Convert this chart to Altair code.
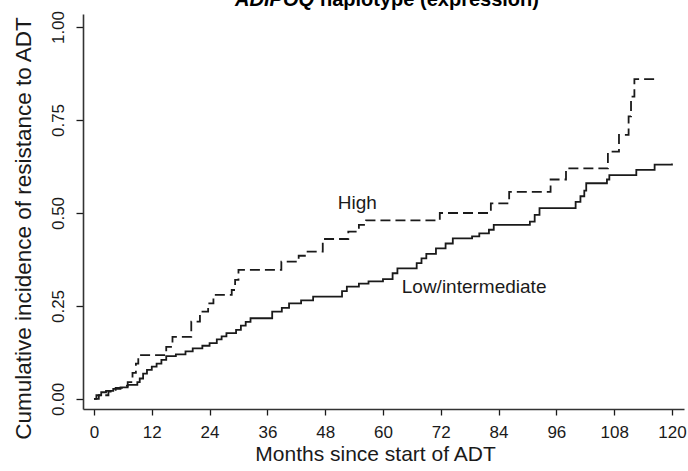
import altair as alt
import pandas as pd

# Low/intermediate expression (solid step line)
low_months = [0, 0.5, 1.5, 2.5, 4, 5.5, 7, 9, 9.5, 10.2, 11, 12, 13, 14, 15, 17, 19, 20.5,
              22.5, 24, 25.5, 26.5, 27.5, 29.5, 30.5, 31.5, 32.5, 37, 39, 40.5, 43, 45.5,
              51.5, 52.5, 55, 57, 60, 62, 63, 67, 68, 69, 71, 73, 74.5, 78.5, 80, 82, 83,
              90.5, 91.5, 92.5, 100, 101, 101.8, 102.2, 106.5, 107, 112.6, 116.4, 120]
low_values = [0, 0.01, 0.018, 0.022, 0.027, 0.031, 0.038, 0.045, 0.055, 0.068, 0.078, 0.087,
              0.095, 0.105, 0.115, 0.12, 0.128, 0.136, 0.143, 0.15, 0.16, 0.168, 0.177, 0.186,
              0.197, 0.207, 0.217, 0.235, 0.245, 0.257, 0.265, 0.275, 0.29, 0.302, 0.31, 0.316,
              0.322, 0.338, 0.351, 0.365, 0.378, 0.39, 0.405, 0.418, 0.432, 0.437, 0.445, 0.455,
              0.468, 0.477, 0.495, 0.513, 0.53, 0.545, 0.56, 0.58, 0.59, 0.602, 0.616, 0.63, 0.633]

# High expression (dashed step line)
high_months = [0, 1, 3, 4.5, 6, 7, 8, 8.7, 9.2, 15, 16.3, 20.2, 22, 23.7, 24.8, 28.6, 29.3, 30,
               38.9, 42.5, 44, 47.5, 52.8, 55, 56.5, 71.8, 82.4, 86.2, 94.8, 98, 106.7, 109,
               111, 111.5, 112.2, 116.7]
high_values = [0, 0.01, 0.02, 0.03, 0.035, 0.045, 0.07, 0.095, 0.118, 0.14, 0.167, 0.208, 0.235,
               0.257, 0.28, 0.293, 0.32, 0.347, 0.369, 0.385, 0.396, 0.43, 0.45, 0.468, 0.48,
               0.5, 0.526, 0.557, 0.59, 0.62, 0.665, 0.71, 0.76, 0.813, 0.86, 0.86]

x_ticks = [0, 12, 24, 36, 48, 60, 72, 84, 96, 108, 120]
y_ticks = [0.0, 0.25, 0.5, 0.75, 1.0]

label_text = ["High", "Low/intermediate"]
label_months = [50.6, 63.9]
label_values = [0.527, 0.301]

title_italic = "ADIPOQ"
title_rest = "haplotype (expression)"

FONT = "Liberation Sans"
INK = "#1a1a1a"

low_df = pd.DataFrame({"month": low_months, "value": low_values})
high_df = pd.DataFrame({"month": high_months, "value": high_values})
lab_df = pd.DataFrame({"month": label_months, "value": label_values, "text": label_text})

W, H = 601, 395

xscale = alt.Scale(domain=[-2.28, 122.5], nice=False, zero=False)
yscale = alt.Scale(domain=[-0.027, 1.035], nice=False, zero=False)

x_axis = alt.Axis(
    values=x_ticks, title="Months since start of ADT", grid=False,
    labelFont=FONT, labelFontSize=17, labelColor=INK, labelPadding=9,
    tickSize=6, tickColor=INK, tickWidth=1.3,
    domainColor="#333333", domainWidth=1.6,
    titleFont=FONT, titleFontSize=21, titleFontWeight="normal", titleColor=INK,
    titleX=292, titleY=51, titleAlign="center", titleBaseline="alphabetic",
)
y_axis = alt.Axis(
    values=y_ticks, format=".2f", title="Cumulative incidence of resistance to ADT", grid=False,
    labelFont=FONT, labelFontSize=17, labelColor=INK, labelAngle=-90,
    labelAlign="center", labelBaseline="bottom", labelPadding=9,
    tickSize=7, tickColor=INK, tickWidth=1.3,
    domainColor="#333333", domainWidth=1.6,
    titleFont=FONT, titleFontSize=22.5, titleFontWeight="normal", titleColor=INK,
    titleAngle=-90, titleX=-53, titleY=214, titleAlign="center", titleBaseline="alphabetic",
)

low_line = alt.Chart(low_df).mark_line(
    interpolate="step-after", color=INK, strokeWidth=1.8
).encode(
    x=alt.X("month:Q", scale=xscale, axis=x_axis),
    y=alt.Y("value:Q", scale=yscale, axis=y_axis),
)

high_line = alt.Chart(high_df).mark_line(
    interpolate="step-after", color=INK, strokeWidth=1.8, strokeDash=[10, 5]
).encode(
    x=alt.X("month:Q", scale=xscale),
    y=alt.Y("value:Q", scale=yscale),
)

labels = alt.Chart(lab_df).mark_text(
    align="left", baseline="middle", font=FONT, fontSize=19, color=INK
).encode(
    x=alt.X("month:Q", scale=xscale),
    y=alt.Y("value:Q", scale=yscale),
    text="text:N",
)

title_df = pd.DataFrame({"a": [title_italic], "b": [title_rest]})
t1 = alt.Chart(title_df).mark_text(
    align="right", baseline="alphabetic", font=FONT, fontSize=20,
    fontWeight="bold", fontStyle="italic", color="#000000"
).encode(x=alt.value(231), y=alt.value(-8), text="a:N")
t2 = alt.Chart(title_df).mark_text(
    align="left", baseline="alphabetic", font=FONT, fontSize=20,
    fontWeight="bold", color="#000000"
).encode(x=alt.value(237), y=alt.value(-8), text="b:N")

chart = alt.layer(low_line, high_line, labels, t1, t2).properties(
    width=W, height=H,
    autosize=alt.AutoSizeParams(type="none"),
    padding={"left": 83, "top": 14, "right": 4, "bottom": 62},
    background="white",
).configure_view(stroke=None)

chart.save("out.html", embed_options={"renderer": "svg", "actions": False})
